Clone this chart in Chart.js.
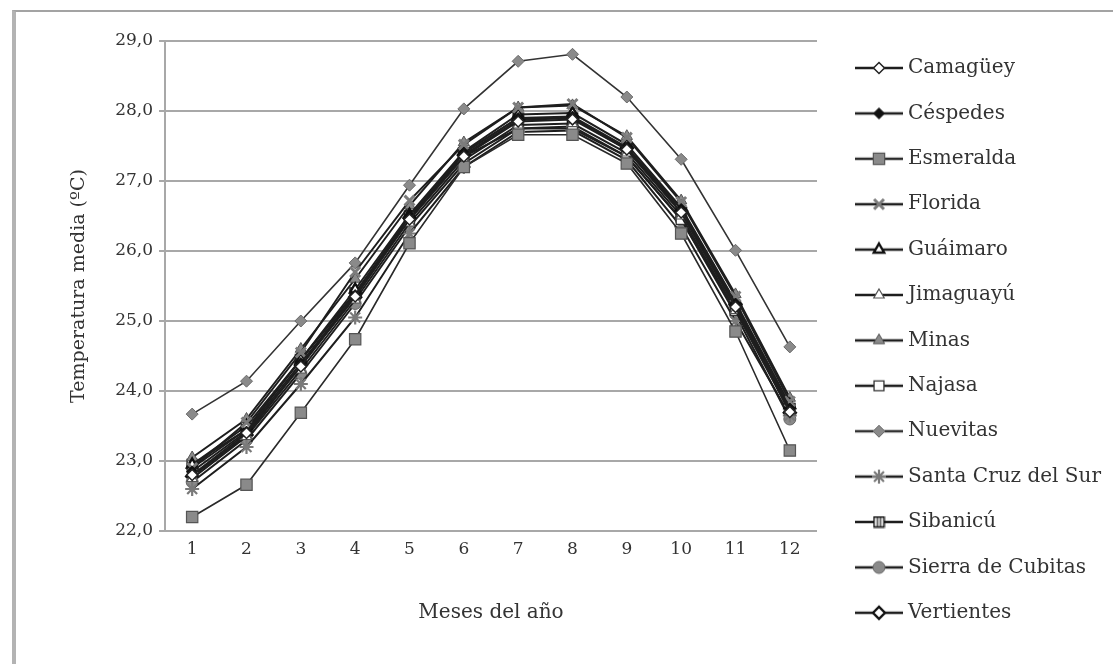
<!DOCTYPE html>
<html>
<head>
<meta charset="utf-8">
<script src="https://cdn.jsdelivr.net/npm/chart.js@4.4.1/dist/chart.umd.min.js"></script>
<style>
  html, body { margin: 0; padding: 0; background: #fff; }
  #frame { position: absolute; left: 12px; top: 10px; right: 0; bottom: 0;
           border-top: 2px solid #a3a3a3; border-left: 4px solid #b3b3b3; }
  #wrap { position: absolute; left: 0; top: 0; width: 1113px; height: 664px; }
</style>
</head>
<body>
<div id="frame"></div>
<div id="wrap"><canvas id="myChart"></canvas></div>
<script>
// monthly mean temperature (ºC) per municipality
const months = ["1", "2", "3", "4", "5", "6", "7", "8", "9", "10", "11", "12"];
const yTicks = [22, 23, 24, 25, 26, 27, 28, 29];

const camaguey    = [22.80, 23.40, 24.35, 25.35, 26.45, 27.35, 27.85, 27.88, 27.45, 26.55, 25.20, 23.70];
const cespedes    = [22.85, 23.42, 24.40, 25.37, 26.50, 27.40, 27.90, 27.92, 27.48, 26.60, 25.25, 23.75];
const esmeralda   = [22.20, 22.66, 23.69, 24.74, 26.11, 27.20, 27.66, 27.66, 27.25, 26.25, 24.85, 23.15];
const florida     = [22.90, 23.55, 24.55, 25.70, 26.72, 27.52, 28.05, 28.10, 27.62, 26.70, 25.35, 23.85];
const guaimaro    = [22.95, 23.50, 24.45, 25.45, 26.52, 27.42, 27.95, 27.97, 27.52, 26.62, 25.27, 23.80];
const jimaguayu   = [22.75, 23.35, 24.30, 25.30, 26.40, 27.30, 27.80, 27.82, 27.40, 26.50, 25.15, 23.70];
const minas       = [23.05, 23.60, 24.60, 25.60, 26.65, 27.55, 28.05, 28.08, 27.64, 26.72, 25.38, 23.90];
const najasa      = [22.90, 23.45, 24.45, 25.40, 26.45, 27.35, 27.75, 27.75, 27.35, 26.45, 25.15, 23.75];
const nuevitas    = [23.67, 24.14, 25.00, 25.83, 26.94, 28.03, 28.71, 28.81, 28.20, 27.31, 26.01, 24.63];
const santaCruz   = [22.60, 23.20, 24.10, 25.05, 26.25, 27.20, 27.70, 27.72, 27.30, 26.35, 25.00, 23.65];
const sibanicu    = [22.95, 23.45, 24.45, 25.40, 26.50, 27.40, 27.90, 27.90, 27.45, 26.55, 25.20, 23.75];
const sierraCub   = [22.70, 23.30, 24.25, 25.25, 26.35, 27.25, 27.75, 27.78, 27.35, 26.45, 25.10, 23.60];
const vertientes  = [22.78, 23.37, 24.37, 25.34, 26.47, 27.37, 27.87, 27.90, 27.47, 26.57, 25.24, 23.69];

const names = ["Camagüey", "Céspedes", "Esmeralda", "Florida", "Guáimaro", "Jimaguayú", "Minas",
               "Najasa", "Nuevitas", "Santa Cruz del Sur", "Sibanicú", "Sierra de Cubitas", "Vertientes"];
const values = [camaguey, cespedes, esmeralda, florida, guaimaro, jimaguayu, minas,
                najasa, nuevitas, santaCruz, sibanicu, sierraCub, vertientes];

// square with two vertical bars, used for Sibanicú
function barredSquare() {
  const c = document.createElement("canvas");
  c.width = 13; c.height = 13;
  const g = c.getContext("2d");
  g.fillStyle = "#fff";
  g.fillRect(1, 1, 11, 11);
  g.strokeStyle = "#111";
  g.lineWidth = 1.6;
  g.strokeRect(1.5, 1.5, 10, 10);
  g.lineWidth = 1.2;
  g.beginPath();
  g.moveTo(5, 2); g.lineTo(5, 11);
  g.moveTo(8, 2); g.lineTo(8, 11);
  g.stroke();
  return c;
}

const grey = "#8a8a8a";
const markers = [
  { style: "rectRot", fill: "#fff", stroke: "#222", r: 5.5, bw: 1.5, line: "#1e1e1e" },
  { style: "rectRot", fill: "#111", stroke: "#111", r: 5.5, bw: 1, line: "#1e1e1e" },
  { style: "rect", fill: grey, stroke: "#555", r: 8, bw: 1.2, line: "#2a2a2a" },
  { style: "crossRot", fill: grey, stroke: "#7c7c7c", r: 7, bw: 3, line: "#1e1e1e" },
  { style: "triangle", fill: "#fff", stroke: "#111", r: 6, bw: 2.4, line: "#1e1e1e" },
  { style: "triangle", fill: "#fff", stroke: "#555", r: 6, bw: 1.2, line: "#1e1e1e" },
  { style: "triangle", fill: grey, stroke: "#555", r: 6.5, bw: 1, line: "#1e1e1e" },
  { style: "rect", fill: "#fff", stroke: "#333", r: 7, bw: 1.3, line: "#1e1e1e" },
  { style: "rectRot", fill: grey, stroke: "#6a6a6a", r: 6, bw: 1, line: "#333" },
  { style: "star", fill: grey, stroke: "#7a7a7a", r: 7, bw: 2.2, line: "#1e1e1e" },
  { style: barredSquare(), fill: "#fff", stroke: "#111", r: 6, bw: 1, line: "#1e1e1e" },
  { style: "circle", fill: grey, stroke: "#666", r: 6, bw: 1, line: "#1e1e1e" },
  { style: "rectRot", fill: "#fff", stroke: "#111", r: 6, bw: 2.4, line: "#1e1e1e" }
];

// little line + marker icons for the side legend
function legendIcon(m) {
  const c = document.createElement("canvas");
  c.width = 48; c.height = 20;
  const g = c.getContext("2d");
  g.strokeStyle = m.line;
  g.lineWidth = 2.4;
  g.beginPath();
  g.moveTo(0, 10); g.lineTo(48, 10);
  g.stroke();
  g.fillStyle = m.fill;
  g.strokeStyle = m.stroke;
  g.lineWidth = m.bw;
  Chart.helpers.drawPoint(g, { pointStyle: m.style, radius: m.r, borderWidth: m.bw, rotation: 0 }, 24, 10);
  return c;
}
const icons = markers.map(legendIcon);

const sideLegend = {
  id: "sideLegend",
  afterDraw(chart) {
    const ctx = chart.ctx;
    const x0 = chart.chartArea.right + 38;
    ctx.save();
    ctx.font = '20px "DejaVu Serif"';
    ctx.textBaseline = "middle";
    ctx.fillStyle = "#333";
    names.forEach((name, i) => {
      const y = 68 + i * 45.4;
      ctx.drawImage(icons[i], x0, y - 10);
      ctx.fillText(name, x0 + 53, y);
    });
    ctx.restore();
  }
};

const datasets = names.map((name, i) => ({
  label: name,
  data: values[i],
  borderColor: markers[i].line,
  borderWidth: i === 8 || i === 2 ? 1.6 : 2,
  pointStyle: markers[i].style,
  pointRadius: markers[i].r,
  pointBackgroundColor: markers[i].fill,
  pointBorderColor: markers[i].stroke,
  pointBorderWidth: markers[i].bw,
  tension: 0,
  fill: false
}));

const serif = "DejaVu Serif";
const ctx = document.getElementById("myChart");

new Chart(ctx, {
  type: "line",
  data: { labels: months, datasets: datasets },
  plugins: [sideLegend],
  options: {
    responsive: true,
    maintainAspectRatio: false,
    animation: false,
    events: [],
    layout: { padding: { left: 0, top: 41, right: 296, bottom: 0 } },
    plugins: { legend: { display: false }, tooltip: { enabled: false } },
    scales: {
      x: {
        offset: true,
        grid: { display: false, drawTicks: false, tickLength: 0 },
        border: { display: false },
        ticks: { padding: 8, color: "#333", font: { family: serif, size: 17 } },
        title: {
          display: true, text: "Meses del año", color: "#333",
          font: { family: serif, size: 20 }, padding: { top: 0, bottom: 39 }
        },
        afterFit(scale) { scale.height = 133; }
      },
      y: {
        min: 22,
        max: 29,
        afterBuildTicks(scale) { scale.ticks = yTicks.map(v => ({ value: v })); },
        grid: { color: "#a8a8a8", lineWidth: 2, tickLength: 6 },
        border: { color: "#a8a8a8", width: 2 },
        ticks: {
          padding: 6, color: "#333", font: { family: serif, size: 17 },
          callback: v => v.toFixed(1).replace(".", ",")
        },
        title: {
          display: true, text: "Temperatura media (ºC)", color: "#333",
          font: { family: serif, size: 19 }, padding: { top: 68, bottom: 0 }
        },
        afterFit(scale) { scale.width = 165; }
      }
    }
  }
});
</script>
</body>
</html>
